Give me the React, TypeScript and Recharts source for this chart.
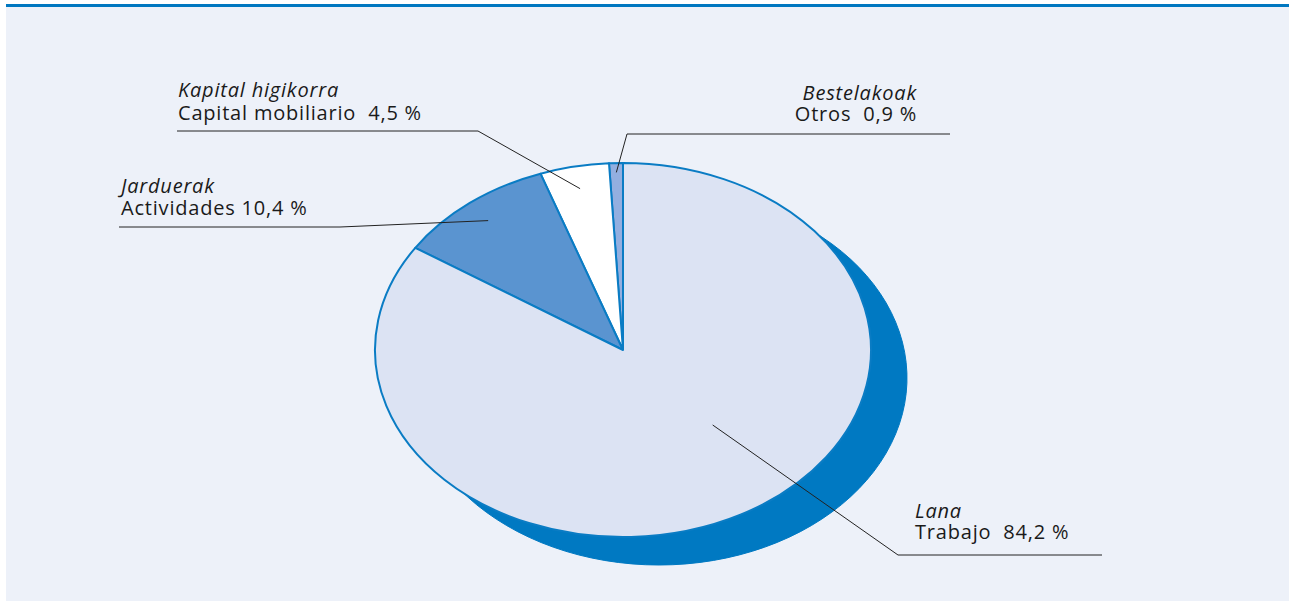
import React from 'react'
import { PieChart, Pie, Cell } from 'recharts'

// income sources, share of total (%)
const basqueNames = ['Bestelakoak', 'Kapital higikorra', 'Jarduerak', 'Lana']
const spanishNames = ['Otros', 'Capital mobiliario', 'Actividades', 'Trabajo']
const shares = [0.9, 4.5, 10.4, 84.2]
const sliceFills = ['#93AFE0', '#FFFFFF', '#5A94D0', '#DCE3F3']

const pieData = shares.map((v, i) => ({ eu: basqueNames[i], es: spanishNames[i], value: v }))

const CX = 623
const CY = 350
const R = 248
const SQUASH = 187 / 248
const SHADOW = { dx: 36, dy: 28 }

// leader line / label placement, one per slice
const labelLayout = [
  { frac: 0.95, shift: 0, elbow: [627, 134], end: [950, 134], tx: 917, anchor: 'end', y1: 100, y2: 121, gap: '  ' },
  { frac: 0.88, shift: 0, elbow: [478, 131], end: [177, 131], tx: 178, anchor: 'start', y1: 97, y2: 120, gap: '  ' },
  { frac: 0.88, shift: 0, elbow: [340, 227], end: [119, 227], tx: 121, anchor: 'start', y1: 193, y2: 215, gap: ' ' },
  { frac: 0.54, shift: 13.6, elbow: [898, 555], end: [1102, 555], tx: 915, anchor: 'start', y1: 518, y2: 539, gap: '  ' },
]

const FONT = '"Open Sans", sans-serif'

function ellipseSector(props: any) {
  const { cx, cy, outerRadius, startAngle, endAngle, fill, stroke, strokeWidth } = props
  const rad = Math.PI / 180
  const ry = outerRadius * SQUASH
  const x1 = cx + outerRadius * Math.cos(startAngle * rad)
  const y1 = cy - ry * Math.sin(startAngle * rad)
  const x2 = cx + outerRadius * Math.cos(endAngle * rad)
  const y2 = cy - ry * Math.sin(endAngle * rad)
  const delta = endAngle - startAngle
  const large = Math.abs(delta) > 180 ? 1 : 0
  const sweep = delta > 0 ? 0 : 1
  const d = `M${cx},${cy} L${x1},${y1} A${outerRadius},${ry} 0 ${large} ${sweep} ${x2},${y2} Z`
  return <path d={d} fill={fill} stroke={stroke} strokeWidth={strokeWidth} strokeLinejoin="round" />
}

function renderLabel(props: any) {
  const { cx, cy, outerRadius, midAngle, index, value } = props
  const lay = labelLayout[index]
  const a = ((midAngle + lay.shift) * Math.PI) / 180
  const ax = cx + lay.frac * outerRadius * Math.cos(a)
  const ay = cy - lay.frac * outerRadius * SQUASH * Math.sin(a)
  const pct = value.toFixed(1).replace('.', ',')
  return (
    <g key={'lbl' + index}>
      <polyline
        points={`${ax},${ay} ${lay.elbow[0]},${lay.elbow[1]} ${lay.end[0]},${lay.end[1]}`}
        fill="none"
        stroke="#222"
        strokeWidth={1}
      />
      <text x={lay.tx} y={lay.y1} textAnchor={lay.anchor} fontFamily={FONT} fontSize={20} letterSpacing={0.8} fontStyle="italic" fill="#1a1a1a">
        {basqueNames[index]}
      </text>
      <text x={lay.tx} y={lay.y2} textAnchor={lay.anchor} fontFamily={FONT} fontSize={20} letterSpacing={0.8} fill="#1a1a1a" style={{ whiteSpace: 'pre' }}>
        {spanishNames[index] + lay.gap + pct + ' %'}
      </text>
    </g>
  )
}

export default function App() {
  return (
    <div style={{ position: 'absolute', left: 0, top: 0, width: 1289, height: 601, background: '#fff' }}>
      <div
        style={{
          position: 'absolute',
          left: 6,
          top: 4,
          width: 1283,
          height: 594,
          background: '#EDF1F9',
          borderTop: '3px solid #0077C0',
        }}
      />
      <div style={{ position: 'absolute', left: 0, top: 0 }}>
        <PieChart width={1289} height={601} margin={{ top: 0, right: 0, bottom: 0, left: 0 }}>
          {/* side / shadow of the disc */}
          <Pie
            data={pieData}
            dataKey="value"
            nameKey="es"
            cx={CX + SHADOW.dx}
            cy={CY + SHADOW.dy}
            outerRadius={R}
            startAngle={90}
            endAngle={450}
            stroke="#0079C2"
            strokeWidth={1}
            fill="#0079C2"
            isAnimationActive={false}
            shape={ellipseSector}
            activeShape={ellipseSector}
            inactiveShape={ellipseSector}
          />
          <Pie
            data={pieData}
            dataKey="value"
            nameKey="es"
            cx={CX}
            cy={CY}
            outerRadius={R}
            startAngle={90}
            endAngle={450}
            stroke="#0A7CC4"
            strokeWidth={2}
            isAnimationActive={false}
            labelLine={false}
            label={renderLabel}
            shape={ellipseSector}
            activeShape={ellipseSector}
            inactiveShape={ellipseSector}
          >
            {pieData.map((d, i) => (
              <Cell key={d.es} fill={sliceFills[i]} />
            ))}
          </Pie>
        </PieChart>
      </div>
    </div>
  )
}
